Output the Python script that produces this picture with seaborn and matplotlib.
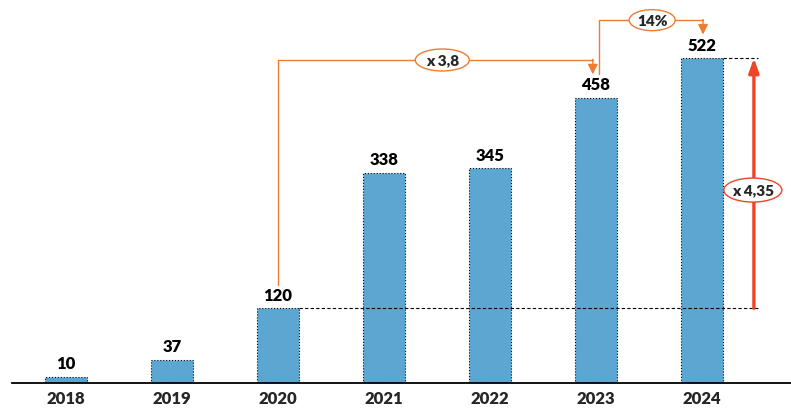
import matplotlib
matplotlib.use("Agg")
import matplotlib.pyplot as plt
from matplotlib.patches import Ellipse
import seaborn as sns
import pandas as pd

years = ["2018", "2019", "2020", "2021", "2022", "2023", "2024"]
values = [10, 37, 120, 338, 345, 458, 522]
growth_20_23 = "x 3,8"
growth_23_24 = "14%"
growth_20_24 = "x 4,35"

sns.set_theme(style="white")
plt.rcParams['font.family'] = ['Lato', 'DejaVu Sans']

BAR = "#5BA7D2"
ORANGE = "#ED7D31"
RED = "#EE4428"
FS = 12
FW = "heavy"

df = pd.DataFrame({"year": years, "value": values})
fig = plt.figure(figsize=(7.91, 4.10), dpi=100)
ax = fig.add_axes([12/791, 26/410, 779/791, 384/410])
sns.barplot(data=df, x="year", y="value", color=BAR, width=0.4, ax=ax,
            edgecolor="black", linewidth=0.8, linestyle=":", saturation=1)
ax.set_xlim(-0.51, 6.84)
ax.set_ylim(0, 617)
for c in ax.containers:
    ax.bar_label(c, labels=[str(v) for v in values], padding=4,
                 fontsize=FS, fontweight=FW, color="black")

for s in ["top", "right", "left"]:
    ax.spines[s].set_visible(False)
ax.spines["bottom"].set_color("black")
ax.spines["bottom"].set_linewidth(1.3)
ax.set_yticks([])
ax.set_xlabel("")
ax.set_ylabel("")
ax.tick_params(axis="x", length=0, pad=5)
for t in ax.get_xticklabels():
    t.set_fontweight(FW)
    t.set_fontsize(FS)

# pixel -> data scale
sx = 1 / 106.0
sy = 1 / 0.6226

def bubble(x, y, text, ec, wpx, hpx):
    ax.add_patch(Ellipse((x, y), wpx * sx, hpx * sy, fc="white", ec=ec,
                         lw=1.0, zorder=5))
    ax.text(x, y, text, ha="center", va="center", fontsize=11,
            fontweight=FW, zorder=6)

i20, i23, i24 = years.index("2020"), years.index("2023"), years.index("2024")
v20, v23, v24 = values[i20], values[i23], values[i24]

arrow_o = dict(arrowstyle="-|>,head_width=0.25,head_length=0.5",
               color=ORANGE, lw=1.0, shrinkA=0, shrinkB=0)

# connector 2020 -> 2023
y1 = 519
ax.plot([i20, i20, i23 - 0.03], [157, y1, y1], color=ORANGE, lw=1.0)
ax.annotate("", xy=(i23 - 0.03, 496), xytext=(i23 - 0.03, y1 + 1), arrowprops=arrow_o)
bubble((i20 + i23) / 2 + 0.05, y1, growth_20_23, ORANGE, 54, 22)

# connector 2023 -> 2024
y2 = 583
ax.plot([i23 + 0.03, i23 + 0.03, i24 + 0.01], [496, y2, y2], color=ORANGE, lw=1.0)
ax.annotate("", xy=(i24 + 0.01, 560), xytext=(i24 + 0.01, y2 + 1), arrowprops=arrow_o)
bubble((i23 + i24) / 2 + 0.03, y2, growth_23_24, ORANGE, 46, 21)

# dashed reference lines
xr = i24 + 0.49
ax.plot([i20 + 0.2, xr + 0.04], [v20, v20], color="black", lw=0.8, ls=(0, (3, 2)))
ax.plot([i24 + 0.2, xr + 0.04], [v24, v24], color="black", lw=0.8, ls=(0, (3, 2)))

# red growth arrow
ax.annotate("", xy=(xr, v24), xytext=(xr, v20),
            arrowprops=dict(arrowstyle="-|>,head_width=0.25,head_length=0.7",
                            color=RED, lw=2.4, shrinkA=0, shrinkB=0))
bubble(xr - 0.01, 310, growth_20_24, RED, 58, 24)

fig.savefig("out.png", dpi=100)
